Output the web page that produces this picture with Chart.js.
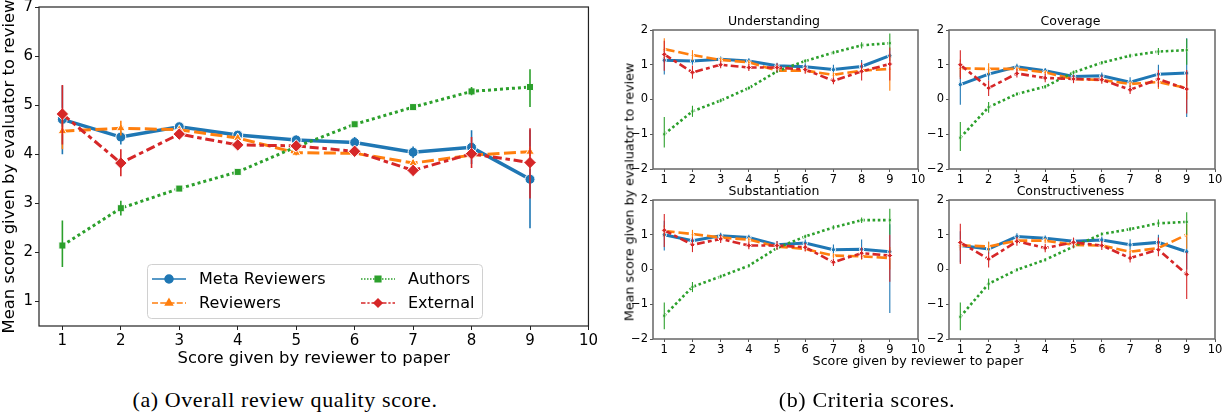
<!DOCTYPE html>
<html>
<head>
<meta charset="utf-8">
<script src="https://cdn.jsdelivr.net/npm/chart.js@4.4.1/dist/chart.umd.min.js"></script>
<style>
body { margin: 0; background: #fff; width: 1231px; height: 417px; overflow: hidden; position: relative; }
.box { position: absolute; }
.cap { position: absolute; font-family: 'Liberation Serif', serif; font-size: 22px; letter-spacing: 0.6px; color: #000; white-space: nowrap; transform: translate(-50%, -50%); }
.lbl { position: absolute; font-family: 'DejaVu Sans', sans-serif; font-size: 12.7px; color: #000; white-space: nowrap; transform: translate(-50%, -50%); }
</style>
</head>
<body>
<div class="box" style="left:0px;top:-10px;width:600px;height:385px"><canvas id="overallChart"></canvas></div>
<div class="box" style="left:630px;top:10px;width:300px;height:175px"><canvas id="understandingChart"></canvas></div>
<div class="box" style="left:926px;top:10px;width:301px;height:175px"><canvas id="coverageChart"></canvas></div>
<div class="box" style="left:630px;top:180px;width:300px;height:175px"><canvas id="substantiationChart"></canvas></div>
<div class="box" style="left:926px;top:180px;width:301px;height:175px"><canvas id="constructivenessChart"></canvas></div>
<div class="lbl" style="left:629px;top:192px;transform:translate(-50%,-50%) rotate(-90deg)">Mean score given by evaluator to review</div>
<div class="lbl" style="left:918px;top:360px">Score given by reviewer to paper</div>
<div class="cap" style="left:285px;top:400px">(a) Overall review quality score.</div>
<div class="cap" style="left:867px;top:400px">(b) Criteria scores.</div>
<script>
// x축 (리뷰어가 준 점수)
const scoreLabels = [1, 2, 3, 4, 5, 6, 7, 8, 9];
const xTicks = [1, 2, 3, 4, 5, 6, 7, 8, 9, 10];
const overallTicks = [1, 2, 3, 4, 5, 6, 7];
const criteriaTicks = [-2, -1, 0, 1, 2];
const seriesNames = ['Meta Reviewers', 'Reviewers', 'Authors', 'External'];

// {(a) 전체 점수}
const overallMeta = [4.71, 4.35, 4.56, 4.39, 4.29, 4.24, 4.04, 4.14, 3.49];
const overallMetaCI = [[4.0, 5.4], [4.2, 4.5], [4.48, 4.64], [4.32, 4.46], [4.2, 4.38], [4.14, 4.35], [3.92, 4.16], [3.8, 4.49], [2.49, 4.5]];
const overallRev = [4.47, 4.53, 4.5, 4.33, 4.03, 4.02, 3.82, 3.98, 4.05];
const overallRevCI = [[4.1, 4.8], [4.38, 4.68], [4.44, 4.56], [4.27, 4.39], [3.98, 4.08], [3.97, 4.07], [3.76, 3.88], [3.9, 4.06], [3.95, 4.15]];
const overallAuth = [2.14, 2.9, 3.3, 3.64, 4.15, 4.61, 4.96, 5.28, 5.37];
const overallAuthCI = [[1.7, 2.65], [2.75, 3.05], [3.25, 3.35], [3.59, 3.69], [4.1, 4.2], [4.56, 4.66], [4.91, 5.01], [5.2, 5.37], [4.96, 5.73]];
const overallExt = [4.82, 3.82, 4.41, 4.19, 4.17, 4.06, 3.67, 4.01, 3.83];
const overallExtCI = [[4.2, 5.41], [3.55, 4.1], [4.33, 4.49], [4.12, 4.26], [4.07, 4.27], [3.97, 4.15], [3.57, 3.77], [3.72, 4.35], [3.1, 4.53]];

// {(b) Understanding}
const undMeta = [1.13, 1.11, 1.16, 1.11, 0.97, 0.94, 0.86, 0.95, 1.26];
const undMetaCI = [[0.72, 1.5], [1.0, 1.22], [1.08, 1.24], [1.03, 1.19], [0.88, 1.06], [0.84, 1.04], [0.72, 1.0], [0.8, 1.14], [1.0, 1.4]];
const undRev = [1.45, 1.28, 1.14, 1.07, 0.83, 0.83, 0.71, 0.83, 0.88];
const undRevCI = [[1.2, 1.76], [1.12, 1.42], [1.07, 1.21], [1.0, 1.14], [0.77, 0.89], [0.77, 0.89], [0.64, 0.78], [0.74, 0.92], [0.25, 1.3]];
const undAuth = [-1.0, -0.34, -0.03, 0.33, 0.81, 1.11, 1.35, 1.56, 1.62];
const undAuthCI = [[-1.38, -0.5], [-0.5, -0.18], [-0.08, 0.02], [0.28, 0.38], [0.76, 0.86], [1.06, 1.16], [1.3, 1.4], [1.47, 1.65], [1.4, 1.9]];
const undExt = [1.3, 0.78, 1.0, 0.92, 0.92, 0.86, 0.54, 0.81, 1.02];
const undExtCI = [[0.83, 1.69], [0.6, 0.98], [0.9, 1.1], [0.82, 1.02], [0.8, 1.04], [0.74, 0.98], [0.44, 0.64], [0.55, 1.06], [0.55, 1.5]];

// {(b) Coverage}
const covMeta = [0.43, 0.73, 0.94, 0.83, 0.66, 0.68, 0.5, 0.73, 0.76];
const covMetaCI = [[-0.15, 0.9], [0.55, 0.92], [0.85, 1.03], [0.75, 0.91], [0.58, 0.74], [0.58, 0.78], [0.36, 0.64], [0.45, 1.0], [-0.5, 1.76]];
const covRev = [0.9, 0.88, 0.88, 0.78, 0.59, 0.56, 0.45, 0.5, 0.33];
const covRevCI = [[0.65, 1.15], [0.72, 1.04], [0.82, 0.94], [0.72, 0.84], [0.53, 0.65], [0.5, 0.62], [0.38, 0.52], [0.3, 0.7], [0.0, 0.7]];
const covAuth = [-1.1, -0.22, 0.16, 0.37, 0.78, 1.06, 1.26, 1.38, 1.42];
const covAuthCI = [[-1.48, -0.65], [-0.38, -0.07], [0.11, 0.21], [0.32, 0.42], [0.73, 0.83], [1.01, 1.11], [1.2, 1.32], [1.28, 1.48], [1.0, 1.75]];
const covExt = [1.0, 0.33, 0.75, 0.62, 0.59, 0.57, 0.28, 0.59, 0.3];
const covExtCI = [[0.59, 1.42], [0.1, 0.55], [0.63, 0.87], [0.5, 0.74], [0.47, 0.71], [0.45, 0.69], [0.16, 0.4], [0.35, 0.85], [-0.4, 0.85]];

// {(b) Substantiation}
const subMeta = [1.0, 0.83, 0.97, 0.92, 0.71, 0.76, 0.57, 0.58, 0.51];
const subMetaCI = [[0.55, 1.4], [0.7, 0.96], [0.88, 1.06], [0.84, 1.0], [0.6, 0.82], [0.66, 0.86], [0.42, 0.72], [0.3, 0.86], [-1.25, 1.3]];
const subRev = [1.11, 1.02, 0.92, 0.86, 0.66, 0.59, 0.4, 0.38, 0.33];
const subRevCI = [[0.95, 1.27], [0.9, 1.14], [0.85, 0.99], [0.79, 0.93], [0.6, 0.72], [0.53, 0.65], [0.33, 0.47], [0.28, 0.48], [0.0, 0.65]];
const subAuth = [-1.33, -0.5, -0.2, 0.11, 0.62, 0.95, 1.21, 1.42, 1.42];
const subAuthCI = [[-1.72, -0.95], [-0.65, -0.36], [-0.25, -0.15], [0.06, 0.16], [0.57, 0.67], [0.9, 1.0], [1.15, 1.27], [1.34, 1.5], [1.0, 1.75]];
const subExt = [1.13, 0.71, 0.88, 0.69, 0.69, 0.64, 0.21, 0.47, 0.4];
const subExtCI = [[0.65, 1.6], [0.5, 0.92], [0.76, 1.0], [0.58, 0.8], [0.57, 0.81], [0.52, 0.76], [0.1, 0.32], [0.3, 0.64], [-0.35, 1.0]];

// {(b) Constructiveness}
const conMeta = [0.69, 0.59, 0.95, 0.9, 0.81, 0.85, 0.71, 0.78, 0.51];
const conMetaCI = [[0.2, 1.1], [0.45, 0.8], [0.86, 1.04], [0.82, 0.98], [0.72, 0.9], [0.75, 0.95], [0.55, 0.87], [0.55, 1.0], [0.0, 1.0]];
const conRev = [0.7, 0.66, 0.83, 0.83, 0.71, 0.69, 0.51, 0.62, 1.0];
const conRevCI = [[0.55, 0.85], [0.52, 0.8], [0.76, 0.9], [0.76, 0.9], [0.65, 0.77], [0.63, 0.75], [0.44, 0.58], [0.5, 0.74], [0.6, 1.4]];
const conAuth = [-1.36, -0.41, -0.01, 0.28, 0.66, 1.02, 1.16, 1.33, 1.37];
const conAuthCI = [[-1.75, -0.95], [-0.58, -0.26], [-0.06, 0.04], [0.23, 0.33], [0.61, 0.71], [0.97, 1.07], [1.1, 1.22], [1.22, 1.44], [1.0, 1.65]];
const conExt = [0.78, 0.3, 0.81, 0.62, 0.78, 0.69, 0.33, 0.57, -0.14];
const conExtCI = [[0.16, 1.32], [0.06, 0.5], [0.68, 0.94], [0.5, 0.74], [0.62, 0.92], [0.56, 0.82], [0.2, 0.46], [0.38, 0.92], [-0.85, 0.5]];

const colors = ['#1f77b4', '#ff7f0e', '#2ca02c', '#d62728'];
const markers = ['circle', 'triangle', 'rect', 'rectRot'];
const font = 'DejaVu Sans';

// 오차 막대 (각 데이터셋 그린 직후)
const errorBars = {
    id: 'errorBars',
    afterDatasetDraw(chart, args, opts) {
        const ds = chart.data.datasets[args.index];
        if (!ds.ci) return;
        const ctx = chart.ctx;
        const y = chart.scales.y;
        const area = chart.chartArea;
        ctx.save();
        ctx.beginPath();
        ctx.rect(area.left, area.top, area.right - area.left, area.bottom - area.top);
        ctx.clip();
        ctx.strokeStyle = ds.borderColor;
        ctx.lineWidth = opts.width || 1.5;
        args.meta.data.forEach((pt, i) => {
            ctx.beginPath();
            ctx.moveTo(pt.x, y.getPixelForValue(ds.ci[i][0]));
            ctx.lineTo(pt.x, y.getPixelForValue(ds.ci[i][1]));
            ctx.stroke();
        });
        ctx.restore();
    }
};

// 사방 테두리
const frame = {
    id: 'frame',
    afterDraw(chart, args, opts) {
        const {ctx, chartArea} = chart;
        ctx.save();
        ctx.strokeStyle = opts.color || '#333';
        ctx.lineWidth = opts.width || 1.2;
        ctx.strokeRect(chartArea.left, chartArea.top, chartArea.right - chartArea.left, chartArea.bottom - chartArea.top);
        ctx.restore();
    }
};

// 범례 (2열, 차트 안쪽)
const legendBox = {
    id: 'legendBox',
    afterDraw(chart, args, opts) {
        if (!opts.items) return;
        const {ctx, chartArea} = chart;
        const x0 = chartArea.left + opts.x;
        const y0 = chartArea.top + opts.y;
        ctx.save();
        ctx.fillStyle = 'rgba(255,255,255,0.8)';
        ctx.strokeStyle = '#d0d0d0';
        ctx.lineWidth = 1;
        ctx.beginPath();
        ctx.roundRect(x0 + 0.5, y0 + 0.5, opts.w, opts.h, 4);
        ctx.fill();
        ctx.stroke();
        opts.items.forEach(it => {
            const ds = chart.data.datasets[it.index];
            const lx = x0 + it.col;
            const ly = y0 + it.row;
            ctx.strokeStyle = ds.borderColor;
            ctx.fillStyle = ds.borderColor;
            ctx.lineWidth = 1.5;
            ctx.setLineDash((ds.borderDash || []).map(d => d / 2));
            ctx.beginPath();
            ctx.moveTo(lx, ly);
            ctx.lineTo(lx + 34, ly);
            ctx.stroke();
            ctx.setLineDash([]);
            Chart.helpers.drawPoint(ctx, {pointStyle: ds.pointStyle, radius: 4, borderWidth: 1}, lx + 17, ly);
            ctx.fillStyle = '#000';
            ctx.font = '16px "' + font + '"';
            ctx.textBaseline = 'middle';
            ctx.fillText(ds.label, lx + 47, ly + 1);
        });
        ctx.restore();
    }
};

function makeSet(i, values, ci, lw, radius) {
    const dashes = [[], [4 * lw, 1.5 * lw], [lw, lw], [3 * lw, 1.25 * lw, 1.5 * lw, 1.25 * lw]];
    return {
        label: seriesNames[i],
        data: scoreLabels.map((s, k) => ({x: s, y: values[k]})),
        ci: ci,
        borderColor: colors[i],
        backgroundColor: colors[i],
        borderWidth: lw,
        borderDash: dashes[i],
        pointStyle: markers[i],
        pointRadius: i === 3 ? radius * 1.25 : radius,
        pointBorderColor: '#ffffff',
        pointBorderWidth: 1,
        pointBackgroundColor: colors[i],
        order: 4 - i,
        tension: 0
    };
}

// {(a) 전체 리뷰 품질 점수}
const ChartA = document.getElementById('overallChart');
const overallChart = new Chart(ChartA, {
    type: 'line',
    data: {
        datasets: [
            makeSet(0, overallMeta, overallMetaCI, 3.5, 5),
            makeSet(1, overallRev, overallRevCI, 3, 5),
            makeSet(2, overallAuth, overallAuthCI, 3, 5),
            makeSet(3, overallExt, overallExtCI, 3, 5)
        ]
    },
    options: {
        animation: false,
        responsive: true,
        maintainAspectRatio: false,
        layout: { padding: { top: 17, right: 11, left: 0, bottom: 0 } },
        scales: {
            x: {
                type: 'linear',
                min: 0.6,
                max: 10,
                afterBuildTicks: axis => { axis.ticks = xTicks.map(v => ({value: v})); },
                afterFit: scale => { scale.height = 49; },
                grid: { drawOnChartArea: false, drawTicks: true, tickLength: 4, color: '#222' },
                border: { display: false },
                ticks: { font: { family: font, size: 15 }, color: '#000', padding: 2, maxRotation: 0 },
                title: { display: true, text: 'Score given by reviewer to paper', font: { family: font, size: 16.4 }, color: '#000', padding: { top: 0, bottom: 6 } }
            },
            y: {
                min: 0.5,
                max: 7,
                afterBuildTicks: axis => { axis.ticks = overallTicks.map(v => ({value: v})); },
                afterFit: scale => { scale.width = 39; },
                grid: { drawOnChartArea: false, drawTicks: true, tickLength: 4, color: '#222' },
                border: { display: false },
                ticks: { font: { family: font, size: 15 }, color: '#000', padding: 2 },
                title: { display: true, text: 'Mean score given by evaluator to review', font: { family: font, size: 16.4 }, color: '#000', padding: 0 }
            }
        },
        plugins: {
            legend: { display: false },
            tooltip: { enabled: false },
            errorBars: { width: 1.6 },
            frame: { color: '#222', width: 1.2 },
            legendBox: {
                x: 108, y: 257, w: 335, h: 54,
                items: [
                    { index: 0, col: 5, row: 15 },
                    { index: 1, col: 5, row: 39 },
                    { index: 2, col: 214, row: 15 },
                    { index: 3, col: 214, row: 39 }
                ]
            }
        }
    },
    plugins: [errorBars, frame, legendBox]
});

// {(b) 항목별 작은 차트}
function makeSmall(id, title, meta, metaCI, rev, revCI, auth, authCI, ext, extCI) {
    return new Chart(document.getElementById(id), {
        type: 'line',
        data: {
            datasets: [
                makeSet(0, meta, metaCI, 3, 2.2),
                makeSet(1, rev, revCI, 2.6, 2.2),
                makeSet(2, auth, authCI, 2.6, 2.2),
                makeSet(3, ext, extCI, 2.6, 2.2)
            ]
        },
        options: {
            animation: false,
            responsive: true,
            maintainAspectRatio: false,
            layout: { padding: { top: 0, right: 12, left: 0, bottom: 0 } },
            scales: {
                x: {
                    type: 'linear',
                    min: 0.6,
                    max: 10,
                    afterBuildTicks: axis => { axis.ticks = xTicks.map(v => ({value: v})); },
                    afterFit: scale => { scale.height = 16; },
                    grid: { drawOnChartArea: false, drawTicks: true, tickLength: 3, color: '#555' },
                    border: { display: false },
                    ticks: { font: { family: font, size: 11.5 }, color: '#000', padding: 1, maxRotation: 0 }
                },
                y: {
                    min: -2,
                    max: 2,
                    afterBuildTicks: axis => { axis.ticks = criteriaTicks.map(v => ({value: v})); },
                    afterFit: scale => { scale.width = 23; },
                    grid: { drawOnChartArea: false, drawTicks: true, tickLength: 3, color: '#555' },
                    border: { display: false },
                    ticks: {
                        font: { family: font, size: 11.5 }, color: '#000', padding: 2,
                        callback: v => String(v).replace('-', '\u2212')
                    }
                }
            },
            plugins: {
                legend: { display: false },
                tooltip: { enabled: false },
                errorBars: { width: 1.1 },
                frame: { color: '#666', width: 1.5 },
                title: {
                    display: true,
                    text: title,
                    font: { family: font, size: 12.5, weight: 'normal' },
                    color: '#000',
                    padding: { top: 4, bottom: 1 }
                }
            }
        },
        plugins: [errorBars, frame]
    });
}

const understandingChart = makeSmall('understandingChart', 'Understanding', undMeta, undMetaCI, undRev, undRevCI, undAuth, undAuthCI, undExt, undExtCI);
const coverageChart = makeSmall('coverageChart', 'Coverage', covMeta, covMetaCI, covRev, covRevCI, covAuth, covAuthCI, covExt, covExtCI);
const substantiationChart = makeSmall('substantiationChart', 'Substantiation', subMeta, subMetaCI, subRev, subRevCI, subAuth, subAuthCI, subExt, subExtCI);
const constructivenessChart = makeSmall('constructivenessChart', 'Constructiveness', conMeta, conMetaCI, conRev, conRevCI, conAuth, conAuthCI, conExt, conExtCI);
</script>
</body>
</html>
